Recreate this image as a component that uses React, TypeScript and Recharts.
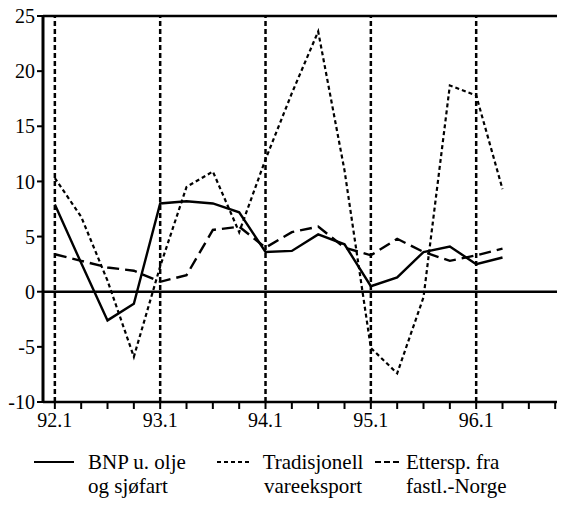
import { CartesianGrid, Legend, Line, LineChart, ReferenceLine, XAxis, YAxis } from "recharts";

// quarters that carry data
const quarters = [
  "92.1", "92.2", "92.3", "92.4",
  "93.1", "93.2", "93.3", "93.4",
  "94.1", "94.2", "94.3", "94.4",
  "95.1", "95.2", "95.3", "95.4",
  "96.1", "96.2",
];

const bnp = [7.9, 2.6, -2.6, -1.1, 8.0, 8.2, 8.0, 7.2, 3.6, 3.7, 5.2, 4.3, 0.5, 1.3, 3.6, 4.1, 2.5, 3.1];
const vareeksport = [10.3, 6.8, 1.0, -5.9, 2.3, 9.5, 10.9, 5.4, 12.0, 18.0, 23.6, 11.0, -5.1, -7.4, -0.5, 18.7, 17.8, 9.3];
const etterspFastland = [3.4, 2.8, 2.2, 1.9, 0.9, 1.5, 5.6, 5.9, 4.0, 5.4, 5.9, 4.0, 3.3, 4.8, 3.6, 2.8, 3.3, 3.9];

// labelled year starts on the x axis
const years = ["92", "93", "94", "95", "96"];
const yTicks = [-10, -5, 0, 5, 10, 15, 20, 25];

const data = quarters.map((q, i) => ({
  idx: i,
  quarter: q,
  bnp: bnp[i],
  vareeksport: vareeksport[i],
  ettersp: etterspFastland[i],
}));

const xTicks = Array.from({ length: 24 }, (_, i) => i);
const yearStarts = years.map((_, i) => i * 4);

const FONT = "Liberation Serif, Tinos, DejaVu Serif, serif";

function formatQuarter(i: number) {
  return i % 4 === 0 && years[i / 4] ? `${years[i / 4]}.1` : "";
}

function ChartLegend() {
  const text: React.CSSProperties = {
    position: "absolute",
    top: 0,
    fontFamily: FONT,
    fontSize: 21,
    lineHeight: "24px",
    color: "#000",
    whiteSpace: "nowrap",
  };
  const sample = (left: number, width: number, dash?: string) => (
    <svg style={{ position: "absolute", left, top: 10 }} width={width} height={4}>
      <line x1={0} y1={2} x2={width} y2={2} stroke="#000" strokeWidth={2} strokeDasharray={dash} />
    </svg>
  );
  return (
    <div style={{ position: "relative", width: 557, height: 50 }}>
      {sample(26, 40)}
      <div style={{ ...text, left: 80 }}>
        BNP u. olje
        <br />
        og sjøfart
      </div>
      {sample(209, 32, "4 3")}
      <div style={{ ...text, left: 252, width: 106, textAlign: "center" }}>
        Tradisjonell
        <br />
        vareeksport
      </div>
      {sample(367, 24, "6 3")}
      <div style={{ ...text, left: 398 }}>
        Ettersp. fra
        <br />
        fastl.-Norge
      </div>
    </div>
  );
}

export default function App() {
  return (
    <div style={{ width: 557, height: 498, overflow: "hidden" }}>
      <LineChart width={700} height={498} data={data} margin={{ top: 8, right: 33, left: 0, bottom: 24 }}>
        <CartesianGrid stroke="none" />
        <XAxis
          type="number"
          dataKey="idx"
          domain={[-0.45, 23.55]}
          ticks={xTicks}
          interval={0}
          tickFormatter={formatQuarter}
          allowDataOverflow
          height={30}
          tickSize={7}
          tickMargin={4}
          axisLine={{ stroke: "#000", strokeWidth: 2.5 }}
          tickLine={{ stroke: "#000", strokeWidth: 2 }}
          tick={{ fill: "#000", fontSize: 20, fontFamily: FONT }}
        />
        <YAxis
          domain={[-10, 25]}
          ticks={yTicks}
          interval={0}
          width={35}
          tickSize={6}
          tickMargin={2}
          axisLine={{ stroke: "#000", strokeWidth: 3 }}
          tickLine={{ stroke: "#000", strokeWidth: 2 }}
          tick={{ fill: "#000", fontSize: 20, fontFamily: FONT }}
        />
        <ReferenceLine y={25} stroke="#000" strokeWidth={2.5} />
        <ReferenceLine y={0} stroke="#000" strokeWidth={2.5} />
        {yearStarts.map((x) => (
          <ReferenceLine key={x} x={x} stroke="#000" strokeWidth={2.5} strokeDasharray="5 3" />
        ))}
        <Line
          type="linear"
          dataKey="bnp"
          name="BNP u. olje og sjøfart"
          stroke="#000"
          strokeWidth={2.4}
          dot={false}
          isAnimationActive={false}
        />
        <Line
          type="linear"
          dataKey="vareeksport"
          name="Tradisjonell vareeksport"
          stroke="#000"
          strokeWidth={2.2}
          strokeDasharray="4 3"
          dot={false}
          isAnimationActive={false}
        />
        <Line
          type="linear"
          dataKey="ettersp"
          name="Ettersp. fra fastl.-Norge"
          stroke="#000"
          strokeWidth={2.4}
          strokeDasharray="12 6"
          dot={false}
          isAnimationActive={false}
        />
        <Legend
          verticalAlign="bottom"
          content={<ChartLegend />}
          wrapperStyle={{ left: 0, top: 442, width: 557, height: 50 }}
        />
      </LineChart>
    </div>
  );
}
